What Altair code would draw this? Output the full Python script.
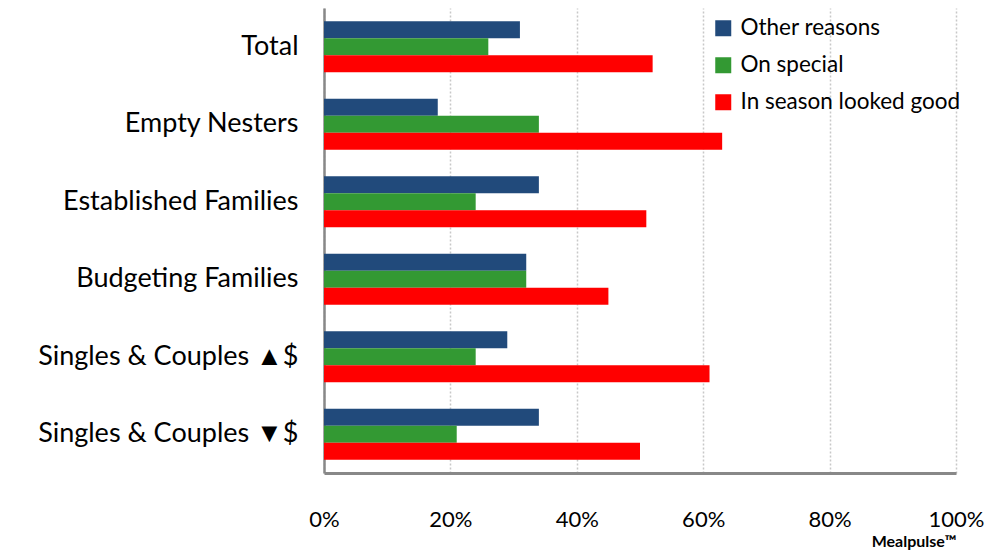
import altair as alt
import pandas as pd

categories = ["Total", "Empty Nesters", "Established Families", "Budgeting Families",
              "Singles & Couples ▲$", "Singles & Couples ▼$"]
series = ["Other reasons", "On special", "In season looked good"]
other_reasons = [31, 18, 34, 32, 29, 34]
on_special = [26, 34, 24, 32, 24, 21]
in_season = [52, 63, 51, 45, 61, 50]
colors = ["#214A7B", "#339933", "#FF0000"]

rows = []
for i, c in enumerate(categories):
    for s, vals in zip(series, [other_reasons, on_special, in_season]):
        rows.append({"category": c, "series": s, "value": vals[i] / 100})
df = pd.DataFrame(rows)

FONT = "Lato"

chart = alt.Chart(df).mark_bar().encode(
    y=alt.Y("category:N", sort=categories,
            scale=alt.Scale(paddingInner=0.34, paddingOuter=0.17),
            axis=alt.Axis(title=None, labelFontSize=27, labelFont=FONT, labelColor="#000",
                          labelPadding=26, ticks=False, domainColor="#888888",
                          domainWidth=2.5, labelLimit=400)),
    yOffset=alt.YOffset("series:N", sort=series, scale=alt.Scale(domain=series, paddingInner=0, paddingOuter=0)),
    x=alt.X("value:Q", scale=alt.Scale(domain=[0, 1]),
            axis=alt.Axis(format=".0%", values=[0, 0.2, 0.4, 0.6, 0.8, 1.0], ticks=False,
                          labelFontSize=22, labelFont=FONT, labelColor="#000", labelPadding=36,
                          domainColor="#888888", domainWidth=3,
                          gridDash=[2, 2], gridColor="#C8C8C8", gridWidth=1.5,
                          title="Mealpulse™", titleAnchor="end", titleFont=FONT,
                          titleFontSize=16, titleFontWeight="bold", titlePadding=3,
                          titleColor="#000", labelFlush=False)),
    color=alt.Color("series:N", sort=series,
                    scale=alt.Scale(domain=series, range=colors),
                    legend=alt.Legend(title=None, orient="none", legendX=388, legendY=9,
                                      symbolType="square", symbolSize=256, symbolStrokeWidth=0,
                                      labelFontSize=22.5, labelFont=FONT, labelColor="#000",
                                      rowPadding=14, labelOffset=6, labelLimit=400)),
).properties(
    width=632, height=465,
    autosize=alt.AutoSizeParams(type="none"),
    padding={"left": 324, "top": 8, "right": 51, "bottom": 79},
).configure_view(stroke=None).configure_axisY(grid=False)

chart.save("out.html", embed_options={"renderer": "svg", "actions": False})
